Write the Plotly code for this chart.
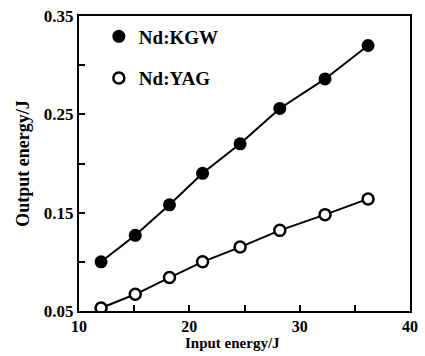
import plotly.graph_objects as go

# Data
input_energy = [12.0, 15.1, 18.2, 21.2, 24.6, 28.2, 32.3, 36.2]
kgw_output = [0.100, 0.127, 0.158, 0.190, 0.220, 0.256, 0.286, 0.320]
yag_output = [0.053, 0.067, 0.084, 0.100, 0.115, 0.132, 0.148, 0.164]
series_names = ["Nd:KGW", "Nd:YAG"]

x_tickvals = [10, 15, 20, 25, 30, 35, 40]
x_ticktext = ["10", "", "20", "", "30", "", "40"]
y_tickvals = [0.05, 0.10, 0.15, 0.20, 0.25, 0.30, 0.35]
y_ticktext = ["0.05", "", "0.15", "", "0.25", "", "0.35"]
x_title = "Input energy/J"
y_title = "Output energy/J"

serif = "Times New Roman, Liberation Serif, DejaVu Serif, serif"

fig = go.Figure()
# connecting lines
for ys in (kgw_output, yag_output):
    fig.add_trace(go.Scatter(x=input_energy, y=ys, mode="lines", showlegend=False,
                             line=dict(color="black", width=2), hoverinfo="skip"))
# markers (shown in legend)
fig.add_trace(go.Scatter(
    x=input_energy, y=kgw_output, mode="markers", name=series_names[0], legendgroup="a",
    marker=dict(symbol="circle", size=13, color="black"),
))
fig.add_trace(go.Scatter(
    x=input_energy, y=yag_output, mode="markers", name=series_names[1], legendgroup="b",
    marker=dict(symbol="circle", size=11, color="white", line=dict(color="black", width=2.5)),
))

axis_common = dict(
    showline=True, linecolor="black", linewidth=2, mirror=True,
    ticks="inside", ticklen=6, tickwidth=2, tickcolor="black",
    showgrid=False, zeroline=False,
)

fig.update_xaxes(range=[10, 40], tickvals=x_tickvals, ticktext=x_ticktext,
                 tickfont=dict(family=serif, size=16, color="black", weight="bold"),
                 **axis_common)
fig.update_yaxes(range=[0.05, 0.35], tickvals=y_tickvals, ticktext=y_ticktext,
                 tickfont=dict(family=serif, size=17, color="black", weight="bold"),
                 title=dict(text=y_title,
                            font=dict(family=serif, size=18, color="black", weight="bold"),
                            standoff=10),
                 **axis_common)

fig.add_annotation(text=x_title, xref="paper", yref="paper", x=0.463, y=-0.11,
                   xanchor="center", yanchor="middle", showarrow=False,
                   font=dict(family=serif, size=15, color="black", weight="bold"))

fig.update_layout(
    width=425, height=356,
    margin=dict(l=79, r=7, t=10, b=45),
    plot_bgcolor="white", paper_bgcolor="white",
    showlegend=True,
    legend=dict(x=0.06, y=0.995, xanchor="left", yanchor="top",
                font=dict(family=serif, size=19, color="black", weight="bold"),
                bgcolor="rgba(0,0,0,0)", itemwidth=30, tracegroupgap=14),
)

fig.write_html("out.html")
